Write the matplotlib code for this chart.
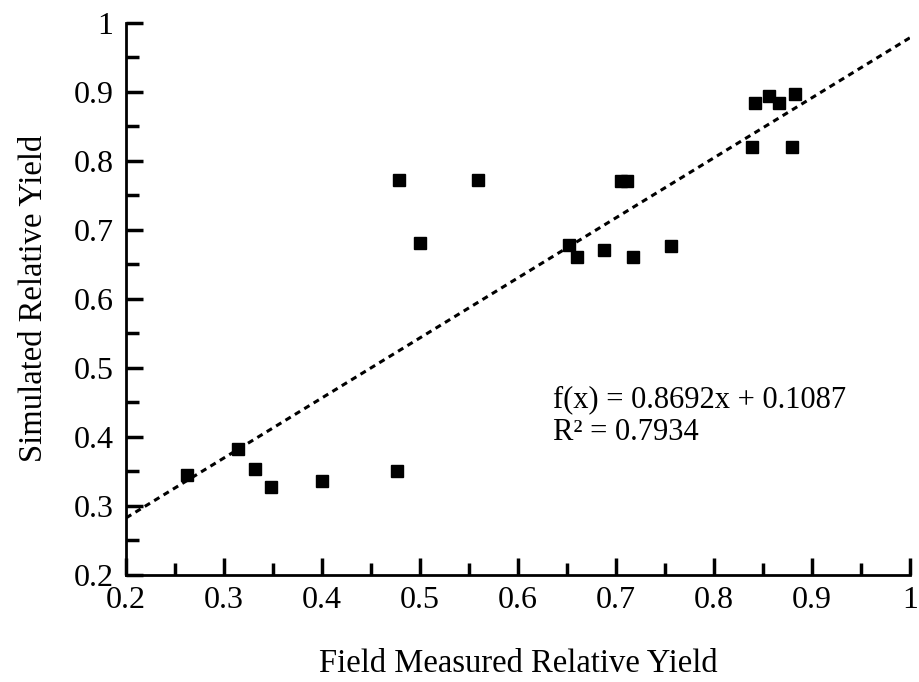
import matplotlib
matplotlib.use("Agg")
import matplotlib.pyplot as plt
from matplotlib.ticker import MultipleLocator, FuncFormatter

# Field measured vs simulated relative yield
field_yield = [0.262, 0.314, 0.332, 0.348, 0.400, 0.477,
               0.479, 0.500, 0.559, 0.652, 0.660, 0.688, 0.705, 0.711,
               0.717, 0.756, 0.839, 0.842, 0.856, 0.866, 0.880, 0.883]
sim_yield = [0.345, 0.382, 0.354, 0.328, 0.336, 0.350,
             0.772, 0.681, 0.772, 0.678, 0.660, 0.670, 0.770, 0.770,
             0.661, 0.676, 0.820, 0.884, 0.894, 0.884, 0.820, 0.897]

slope = 0.8692
intercept = 0.1087
r_squared = 0.7934

plt.rcParams['font.family'] = ['Liberation Serif', 'DejaVu Serif']

fig = plt.figure(figsize=(9.2, 6.82), dpi=100)
ax = fig.add_axes([0.137, 0.157, 0.852, 0.810])

# trend line over the full x range
xs = [0.2, 1.0]
ys = [slope * x + intercept for x in xs]
ax.plot(xs, ys, color="black", linestyle=(0, (2.0, 1.6)), linewidth=2.2, zorder=2)

ax.plot(field_yield, sim_yield, linestyle="none", marker="s", markersize=8.5,
        color="black", zorder=3)

ax.set_xlim(0.2, 1.0)
ax.set_ylim(0.2, 1.0)

for side in ["top", "right"]:
    ax.spines[side].set_visible(False)
for side in ["left", "bottom"]:
    ax.spines[side].set_linewidth(2)

fmt = FuncFormatter(lambda v, pos: "1" if abs(v - 1) < 1e-9 else f"{v:.1f}")
for axis in [ax.xaxis, ax.yaxis]:
    axis.set_major_locator(MultipleLocator(0.1))
    axis.set_minor_locator(MultipleLocator(0.05))
    axis.set_major_formatter(fmt)

ax.tick_params(which="major", direction="in", length=12.5, width=2.5, labelsize=23)
ax.tick_params(which="minor", direction="in", length=9, width=2.5)
ax.tick_params(axis="x", which="major", pad=8)
ax.tick_params(axis="y", which="major", pad=9)

ax.set_xlabel("Field Measured Relative Yield", fontsize=23.5, labelpad=24)
ax.set_ylabel("Simulated Relative Yield", fontsize=23.5, labelpad=18)

ax.text(0.6357, 0.430, f"f(x) = {slope:.4f}x + {intercept:.4f}\nR² = {r_squared:.4f}",
        fontsize=22, linespacing=1.2, va="center", ha="left")

fig.savefig("out.png", dpi=100)
